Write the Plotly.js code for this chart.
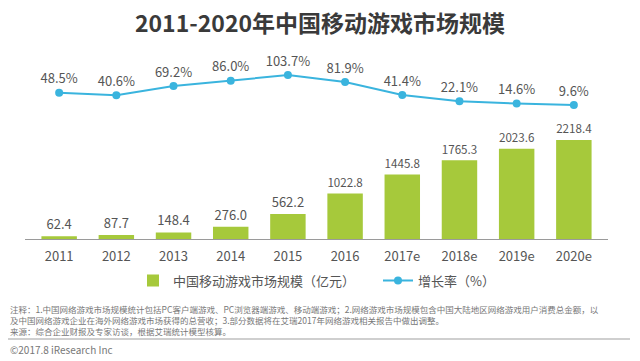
<!DOCTYPE html>
<html><head><meta charset="utf-8">
<script src="https://cdn.plot.ly/plotly-3.0.1.min.js"></script>
<style>html,body{margin:0;padding:0;background:#fff;}#chart{width:640px;height:361px;}</style>
</head><body><div id="chart"></div>
<script>
const categories = ["2011","2012","2013","2014","2015","2016","2017e","2018e","2019e","2020e"];
const marketSize = [62.4,87.7,148.4,276.0,562.2,1022.8,1445.8,1765.3,2023.6,2218.4];
const growthRate = [48.5,40.6,69.2,86.0,103.7,81.9,41.4,22.1,14.6,9.6];
const barName = "中国移动游戏市场规模（亿元）";
const lineName = "增长率（%）";
const titleText = "2011-2020年中国移动游戏市场规模";
const noteLines = [
  "注释：1.中国网络游戏市场规模统计包括PC客户端游戏、PC浏览器端游戏、移动端游戏；2.网络游戏市场规模包含中国大陆地区网络游戏用户消费总金额，以",
  "及中国网络游戏企业在海外网络游戏市场获得的总营收；3.部分数据将在艾瑞2017年网络游戏相关报告中做出调整。",
  "来源：综合企业财报及专家访谈，根据艾瑞统计模型核算。"
];
const copyright = "©2017.8 iResearch Inc";

const FONT = "'Noto Sans CJK SC', 'Noto Sans', sans-serif";
const barColor = "#a6c93b";
const lineColor = "#3ab4de";

// plot area: x 25..608, y 60..239
const px = x => (x - 25) / 583;
const py = y => (239 - y) / 179;

const traces = [
  {
    type: "bar", x: categories, y: marketSize, name: barName,
    marker: {color: barColor},
    text: marketSize.map(v => v.toFixed(1)), textposition: "outside",
    textfont: {size: 13, color: "#555", family: FONT},
    cliponaxis: false, hoverinfo: "skip"
  },
  {
    type: "scatter", mode: "lines+markers+text", x: categories, y: growthRate, yaxis: "y2",
    name: lineName,
    line: {color: lineColor, width: 2},
    marker: {color: lineColor, size: 8},
    text: growthRate.map(v => v.toFixed(1) + "%"), textposition: "top center",
    textfont: {size: 13, color: "#555", family: FONT},
    cliponaxis: false, hoverinfo: "skip"
  }
];

const annotations = [
  {
    xref: "paper", yref: "paper", x: px(8), y: py(319.5),
    xanchor: "left", yanchor: "middle", align: "left", showarrow: false,
    text: noteLines.join("<br>"),
    font: {size: 8.5, color: "#777", family: FONT}
  },
  {
    xref: "paper", yref: "paper", x: px(8), y: py(349),
    xanchor: "left", yanchor: "middle", showarrow: false, text: copyright,
    font: {size: 10, color: "#777", family: FONT}
  }
];

const layout = {
  width: 640, height: 361,
  margin: {l: 25, r: 32, t: 60, b: 122},
  paper_bgcolor: "#fff", plot_bgcolor: "#fff",
  font: {family: FONT, color: "#555"},
  title: {text: "<b>" + titleText + "</b>", x: 0.5, xref: "container", y: 1 - 24/361, yref: "container",
          yanchor: "middle", font: {size: 23, color: "#3a3a3a", family: FONT}},
  bargap: 0.38,
  showlegend: true,
  legend: {orientation: "h", xref: "container", yref: "container", x: 133/640, y: 1 - 280.5/361,
           xanchor: "left", yanchor: "middle", entrywidth: 200, font: {size: 13, color: "#555", family: FONT},
           bgcolor: "rgba(0,0,0,0)"},
  xaxis: {type: "category", showgrid: false, zeroline: false, showline: true, linecolor: "#9a9a9a", linewidth: 1,
          ticks: "", tickfont: {size: 13, color: "#555", family: FONT}, ticklabelstandoff: 5, fixedrange: true},
  yaxis: {range: [0, 4013], visible: false, showgrid: false, zeroline: false, fixedrange: true},
  yaxis2: {range: [-410, 151], overlaying: "y", visible: false, showgrid: false, zeroline: false, fixedrange: true},
  shapes: [{type: "line", xref: "paper", yref: "paper", x0: px(8), x1: px(630),
            y0: py(339), y1: py(339), line: {color: "#cfcfcf", width: 2}}],
  annotations: annotations
};

Plotly.newPlot("chart", traces, layout, {displayModeBar: false, staticPlot: true});
</script>
</body></html>
